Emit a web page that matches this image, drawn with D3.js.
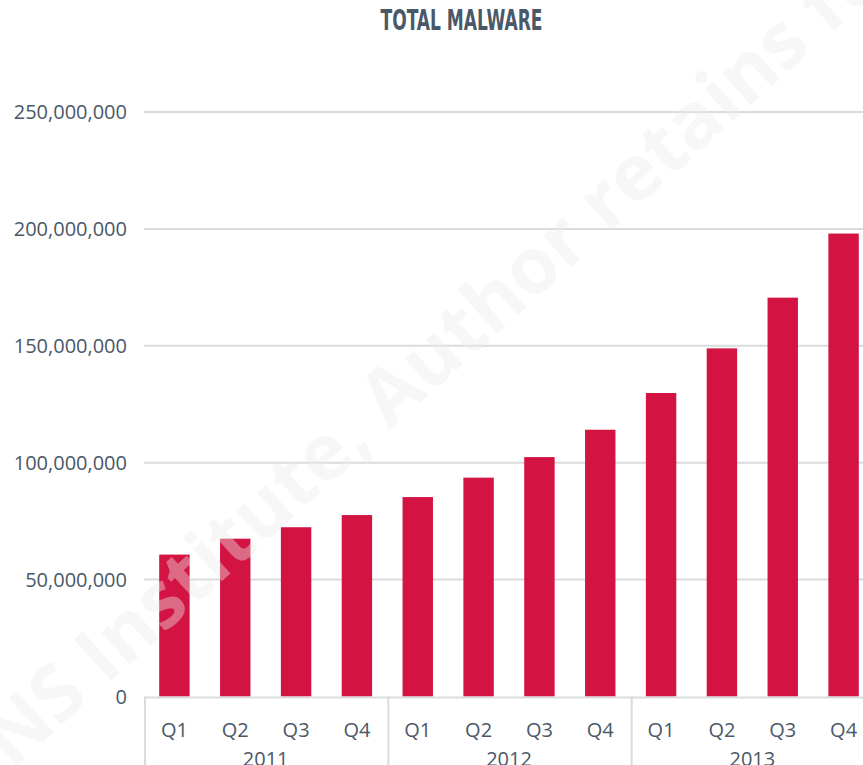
<!DOCTYPE html>
<html>
<head>
<meta charset="utf-8">
<script src="https://cdn.jsdelivr.net/npm/d3@7"></script>
<style>
  html, body { margin: 0; padding: 0; background: #fff; }
  svg { display: block; }
</style>
</head>
<body>
<div id="chart"></div>
<script>
// quarterly totals, millions of samples
const years = ['2011', '2012', '2013'];
const quarters = ['Q1', 'Q2', 'Q3', 'Q4'];
const totals = [60.7, 67.5, 72.4, 77.6, 85.3, 93.6, 102.4, 114.1, 129.8, 148.9, 170.6, 198.0];
const yTicks = [0, 50, 100, 150, 200, 250];

const W = 863, H = 765;
const MARGIN = { top: 112, bottom: 68, left: 144 };
const TEXT = '#4a5868';
const GRID = '#d9dcdc';
const BAR = '#d31442';

const rows = [];
years.forEach((yr, yi) => quarters.forEach((q, qi) => {
  rows.push({ key: `${yr}-${q}`, year: yr, q, value: totals[yi * 4 + qi] });
}));

const svg = d3.select('#chart').append('svg')
  .attr('width', W)
  .attr('height', H);

const x = d3.scaleBand()
  .domain(rows.map(d => d.key))
  .range([MARGIN.left, 874])
  .paddingInner(0.5)
  .paddingOuter(0.25);

const y = d3.scaleLinear()
  .domain([0, 250])
  .range([H - MARGIN.bottom - 0.5, MARGIN.top]);

svg.append('text')
  .attr('x', 461.5)
  .attr('y', 30)
  .attr('text-anchor', 'middle')
  .attr('font-family', '"Liberation Sans Narrow", "DejaVu Sans Condensed", sans-serif')
  .attr('font-weight', 'bold')
  .attr('font-size', 28)
  .attr('textLength', 162)
  .attr('lengthAdjust', 'spacingAndGlyphs')
  .attr('fill', TEXT)
  .text('TOTAL MALWARE');

// gridlines + y labels
const fmt = d3.format(',');
yTicks.forEach(t => {
  if (t > 0) {
    svg.append('line')
      .attr('x1', MARGIN.left).attr('x2', W)
      .attr('y1', y(t)).attr('y2', y(t))
      .attr('stroke', GRID)
      .attr('stroke-width', 2);
  }
  svg.append('text')
    .attr('x', 127)
    .attr('y', y(t))
    .attr('dy', '0.36em')
    .attr('text-anchor', 'end')
    .attr('font-family', '"Open Sans", sans-serif')
    .attr('font-size', 20)
    .attr('fill', TEXT)
    .text(fmt(t * 1e6));
});

svg.append('g')
  .selectAll('rect')
  .data(rows)
  .join('rect')
  .attr('x', d => x(d.key))
  .attr('width', x.bandwidth())
  .attr('y', d => y(d.value))
  .attr('height', d => y(0) - y(d.value))
  .attr('fill', BAR);

// category axis: baseline, year separators, quarter + year labels
const sepOff = (x.step() - x.bandwidth()) / 2;
svg.append('line')
  .attr('x1', MARGIN.left).attr('x2', W)
  .attr('y1', y(0) + 1).attr('y2', y(0) + 1)
  .attr('stroke', GRID)
  .attr('stroke-width', 2);

years.forEach((yr, yi) => {
  const first = x(`${yr}-Q1`) - sepOff;
  const last = x(`${yr}-Q4`) + x.bandwidth() + sepOff;
  svg.append('line')
    .attr('x1', first + 1).attr('x2', first + 1)
    .attr('y1', y(0)).attr('y2', H)
    .attr('stroke', GRID)
    .attr('stroke-width', 2);
  svg.append('text')
    .attr('x', (first + last) / 2)
    .attr('y', 766)
    .attr('text-anchor', 'middle')
    .attr('font-family', '"Open Sans", sans-serif')
    .attr('font-size', 20)
    .attr('fill', TEXT)
    .text(yr);
});

svg.append('g')
  .selectAll('text')
  .data(rows)
  .join('text')
  .attr('x', d => x(d.key) + x.bandwidth() / 2)
  .attr('y', 737)
  .attr('text-anchor', 'middle')
  .attr('font-family', '"Open Sans", sans-serif')
  .attr('font-size', 20)
  .attr('fill', TEXT)
  .text(d => d.q);

// watermark
svg.append('text')
  .attr('transform', 'translate(-60,835) rotate(-42)')
  .attr('font-family', '"Open Sans", sans-serif')
  .attr('font-weight', 'bold')
  .attr('font-size', 78)
  .attr('fill', '#ececec')
  .attr('fill-opacity', 0.4)
  .text('SANS Institute, Author retains full rights.');
</script>
</body>
</html>
